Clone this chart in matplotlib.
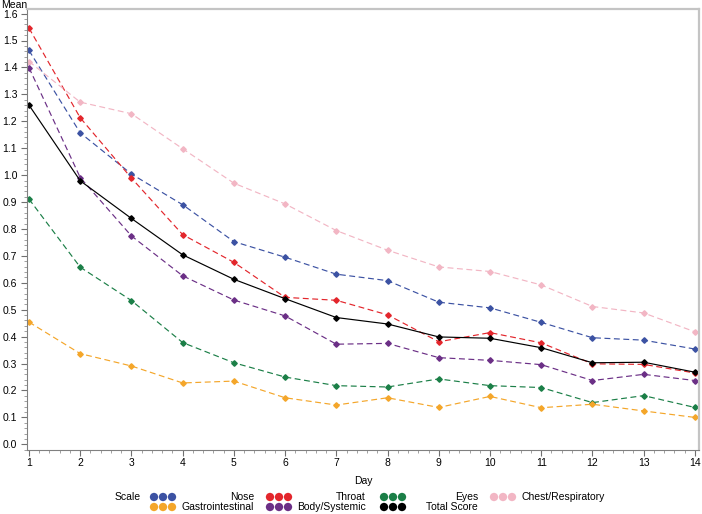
import matplotlib
matplotlib.use('Agg')
import matplotlib.pyplot as plt
from matplotlib.ticker import MultipleLocator, AutoMinorLocator

plt.rcParams['font.family'] = ['Liberation Sans', 'DejaVu Sans']

# Mean symptom score per day
days = list(range(1, 15))
nose = [1.463, 1.157, 1.004, 0.890, 0.753, 0.695, 0.632, 0.608, 0.528, 0.507, 0.453, 0.396, 0.387, 0.354]
throat = [1.546, 1.213, 0.989, 0.779, 0.676, 0.546, 0.535, 0.481, 0.381, 0.415, 0.377, 0.299, 0.297, 0.265]
eyes = [0.911, 0.658, 0.534, 0.378, 0.303, 0.250, 0.218, 0.213, 0.243, 0.218, 0.211, 0.155, 0.181, 0.137]
chest = [1.422, 1.271, 1.228, 1.098, 0.970, 0.893, 0.794, 0.721, 0.659, 0.642, 0.592, 0.512, 0.488, 0.418]
gastro = [0.454, 0.337, 0.291, 0.228, 0.235, 0.173, 0.146, 0.173, 0.137, 0.178, 0.136, 0.149, 0.124, 0.100]
body = [1.399, 0.991, 0.774, 0.626, 0.536, 0.477, 0.372, 0.375, 0.322, 0.312, 0.296, 0.237, 0.260, 0.237]
total = [1.260, 0.979, 0.839, 0.704, 0.613, 0.541, 0.471, 0.447, 0.399, 0.394, 0.359, 0.303, 0.305, 0.268]

series = [
    ('Nose', nose, '#3c52a3', '--'),
    ('Throat', throat, '#e3262c', '--'),
    ('Eyes', eyes, '#1b7f47', '--'),
    ('Chest/Respiratory', chest, '#f2b6c4', '--'),
    ('Gastrointestinal', gastro, '#f4a62a', '--'),
    ('Body/Systemic', body, '#6b2f86', '--'),
    ('Total Score', total, '#000000', '-'),
]

W, H = 702, 514
fig = plt.figure(figsize=(W / 100, H / 100), dpi=100)
ax = fig.add_axes([27 / W, (H - 450) / H, (699 - 27) / W, (450 - 9) / H])

for name, vals, col, ls in series:
    ax.plot(days, vals, color=col, linestyle=ls, linewidth=0.85,
            dashes=(5, 3) if ls == '--' else (None, None),
            marker='D', markersize=2.8, label=name)

ax.set_xlim(0.961, 14.08)
ax.set_ylim(-0.021, 1.617)
ax.xaxis.set_major_locator(MultipleLocator(1))
ax.xaxis.set_minor_locator(AutoMinorLocator(5))
ax.yaxis.set_minor_locator(AutoMinorLocator(5))
ax.set_yticks([i / 10 for i in range(17)])
ax.set_yticklabels(['%.1f' % (i / 10) for i in range(17)])
ax.tick_params(axis='both', which='major', direction='out', length=4, width=0.8,
               color='#707070', labelsize=7.5, pad=3)
ax.tick_params(axis='x', which='major', pad=2)
ax.tick_params(axis='both', which='minor', direction='out', length=2, width=0.6, color='#909090')

for s in ['left', 'bottom']:
    ax.spines[s].set_color('#808080')
    ax.spines[s].set_linewidth(0.8)
for s in ['top', 'right']:
    ax.spines[s].set_color('#c4c4c4')
    ax.spines[s].set_linewidth(1.6)

ax.set_xlabel('Day', fontsize=7.5)
ax.xaxis.set_label_coords((363 - 27) / (699 - 27), -(476 - 450) / (450 - 9))
fig.text(1 / W, 1 - 5 / H, 'Mean', fontsize=7.5, ha='left', va='center')

# legend drawn in pixel coordinates
lg = fig.add_axes([0, 0, 1, 1])
lg.set_xlim(0, W)
lg.set_ylim(H, 0)
lg.axis('off')
lg.text(115, 497, 'Scale', fontsize=7.5, ha='left', va='center')
row_y = [497, 507]
group_x = [154, 270, 384, 494]
label_x = [254, 366, 478]
for i, (name, vals, col, ls) in enumerate(series):
    r = 0 if i < 4 else 1
    g = i if i < 4 else i - 4
    lg.scatter([group_x[g] + k * 9 for k in range(3)], [row_y[r]] * 3, s=36, color=col,
               edgecolors='none')
    if i == 3:
        lg.text(522, row_y[r], name, fontsize=7.5, ha='left', va='center')
    else:
        lg.text(label_x[g], row_y[r], name, fontsize=7.5, ha='right', va='center')

fig.savefig('out.png', dpi=100)
